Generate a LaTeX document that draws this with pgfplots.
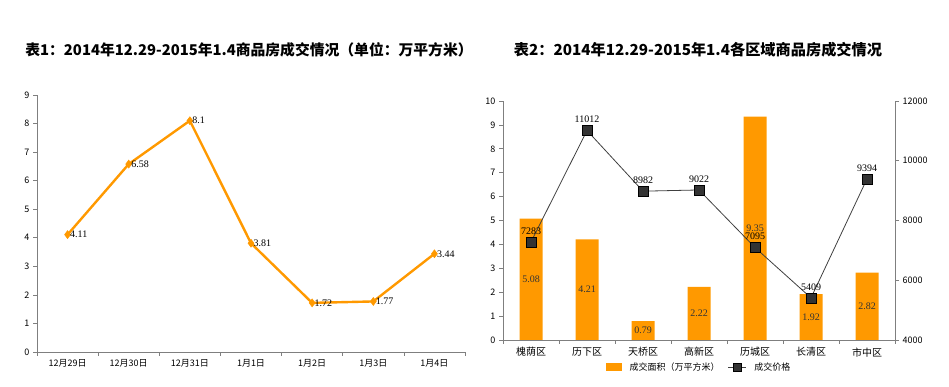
\documentclass[border=0pt]{standalone}
\usepackage{fontspec}
\setmainfont{Noto Sans CJK SC}
\newfontfamily\numfont{Liberation Serif}
\usepackage{pgfplots}
\pgfplotsset{compat=1.18}
\usepackage{pgfplotstable}
\definecolor{orng}{HTML}{FF9900}
\definecolor{axgray}{HTML}{7F7F7F}
\definecolor{mk}{HTML}{333333}

\pgfplotstableread{
x area price
0 5.08 7283
1 4.21 11012
2 0.79 8982
3 2.22 9022
4 9.35 7095
5 1.92 5409
6 2.82 9394
}\districts

\pgfplotstableread{
x val
0 4.11
1 6.58
2 8.1
3 3.81
4 1.72
5 1.77
6 3.44
}\daily

\begin{document}
\begin{tikzpicture}
\path[use as bounding box] (0,0) rectangle (949pt,387pt);
\pgfplotsset{
  base/.style={
    scale only axis,
    /pgf/number format/assume math mode=true,
    /pgf/number format/1000 sep={},
    scaled y ticks=false,
    axis line style={axgray, line width=0.8pt, -},
    tick style={axgray, line width=0.7pt},
    tick align=outside,
    major tick length=4pt,
    tick label style={font=\fontsize{9}{9}\selectfont, black},
    xmin=-0.5, xmax=6.5,
    xtick={-0.5,0.5,...,6.5},
    xticklabels={},
    extra x ticks={0,1,2,3,4,5,6},
    extra x tick style={tick style={draw=none}},
    clip=false,
  }
}
% Titles
\node[font=\bfseries\fontsize{14.8}{14.8}\selectfont] at (249pt,337pt) {表1：2014年12.29-2015年1.4商品房成交情况（单位：万平方米）};
\node[font=\bfseries\fontsize{15.2}{15.2}\selectfont] at (698pt,337pt) {表2：2014年12.29-2015年1.4各区域商品房成交情况};

% Left chart
\begin{axis}[base,
  at={(37pt,35pt)}, anchor=south west,
  width=428pt, height=257pt,
  axis x line*=bottom, axis y line*=left,
  ymin=0, ymax=9, ytick={0,1,...,9},
  extra x tick labels={12月29日,12月30日,12月31日,1月1日,1月2日,1月3日,1月4日},
  nodes near coords,
  every node near coord/.append style={anchor=west, xshift=-1pt, font=\numfont\fontsize{10}{10}\selectfont, text=black},
]
\addplot[orng, line width=2.4pt, mark=diamond*, mark size=4pt, mark options={fill=orng, draw=orng, line width=0.5pt}] table[x=x, y=val] {\daily};
\end{axis}

% Right chart: bars
\begin{axis}[base,
  at={(503pt,47pt)}, anchor=south west,
  width=392pt, height=239pt,
  axis x line*=bottom, axis y line*=left,
  ymin=0, ymax=10, ytick={0,1,...,10},
  extra x tick labels={槐荫区,历下区,天桥区,高新区,历城区,长清区,市中区},
  extra x tick style={tick style={draw=none}, tick label style={font=\fontsize{10}{10}\selectfont}},
  legend style={at={(0.5,-0.115)}, anchor=center, draw=none, fill=none, font=\fontsize{9}{9}\selectfont, legend columns=2, column sep=6pt},
]
\addplot[ybar, bar width=23pt, fill=orng, draw=none,
  legend image code/.code={\fill[orng] (0pt,-4pt) rectangle (16pt,4pt);}] table[x=x, y=area] {\districts};
\addlegendentry{成交面积（万平方米）}
\addplot[draw=none, mark=none, forget plot, nodes near coords, point meta=explicit,
  every node near coord/.append style={anchor=center, font=\numfont\fontsize{10}{10}\selectfont, text=mk}]
  table[x=x, y expr=\thisrow{area}/2, meta=area] {\districts};
\addlegendimage{black!75, line width=0.8pt, mark=square*, mark size=4pt, mark options={fill=mk, draw=black},
  legend image code/.code={\draw[black!75, line width=0.8pt] (0pt,0pt) -- (18pt,0pt); \fill[mk, draw=black] (5pt,-4pt) rectangle (13pt,4pt);}}
\addlegendentry{成交价格}
\end{axis}

% Right chart: price line on secondary axis
\begin{axis}[base,
  at={(503pt,47pt)}, anchor=south west,
  width=392pt, height=239pt,
  axis x line=none, axis y line*=right,
  ymin=4000, ymax=12000, ytick={4000,6000,...,12000},
  nodes near coords,
  every node near coord/.append style={anchor=south, yshift=4pt, font=\numfont\fontsize{10}{10}\selectfont, text=black},
]
\addplot[black!75, line width=0.8pt, mark=square*, mark size=5pt, mark options={fill=mk, draw=black, line width=0.6pt}] table[x=x, y=price] {\districts};
\end{axis}
\end{tikzpicture}
\end{document}
